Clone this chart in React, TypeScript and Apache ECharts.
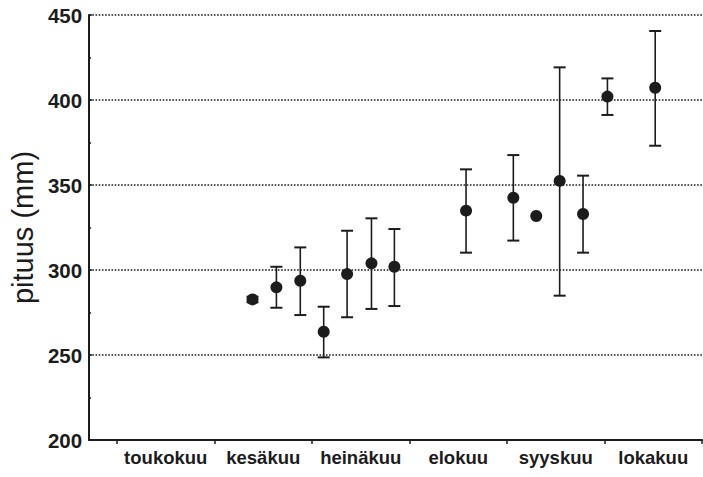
import React, { useEffect, useRef } from "react";
import * as echarts from "echarts";

// Sampling dates, in months after 1 May (0 = 1 May, 1 = 1 June, ...)
const sampleMonth = [1.39, 1.635, 1.88, 2.12, 2.36, 2.61, 2.845, 3.58, 4.065, 4.3, 4.54, 4.78, 5.03, 5.52];
// Mean length (mm) per sample
const meanLength = [282.7, 289.8, 293.7, 263.7, 297.6, 303.9, 301.9, 334.9, 342.5, 331.8, 352.4, 332.9, 402.0, 407.2];
// Error bar ends (mm); null where no bar is drawn
const upperLength = [284.3, 301.9, 313.3, 278.4, 323.1, 330.4, 324.1, 359.2, 367.6, null, 419.2, 355.5, 412.7, 440.6];
const lowerLength = [281.0, 277.8, 273.5, 248.6, 272.2, 277.1, 278.8, 310.2, 317.3, null, 284.9, 310.2, 391.2, 373.1];

const monthNames = ["toukokuu", "kesäkuu", "heinäkuu", "elokuu", "syyskuu", "lokakuu"];
const monthBoundaries = [0, 1, 2, 3, 4, 5, 6];
const monthCentres = [0.5, 1.5, 2.5, 3.5, 4.5, 5.5];

const INK = "#1c1c1c";
const FONT = "'Liberation Sans', Arial, Helvetica, sans-serif";

export default function App() {
  const ref = useRef<HTMLDivElement>(null);

  useEffect(() => {
    document.body.style.margin = "0";
    const chart = echarts.init(ref.current!, null, { renderer: "svg" });

    const points = sampleMonth.map((m, i) => [m, meanLength[i]]);
    const bars = sampleMonth
      .map((m, i) => [m, upperLength[i], lowerLength[i]])
      .filter((d) => d[1] !== null && d[2] !== null);

    chart.setOption({
      animation: false,
      backgroundColor: "#ffffff",
      grid: { left: 87, right: 1, top: 15, bottom: 37, containLabel: false },
      xAxis: {
        type: "value",
        min: -0.286,
        max: 6,
        axisLine: { show: true, onZero: false, lineStyle: { color: INK, width: 2 } },
        axisTick: {
          show: true,
          customValues: monthBoundaries,
          length: 4,
          lineStyle: { color: INK, width: 1.5 },
        },
        axisLabel: {
          customValues: monthCentres,
          formatter: (v: number) => monthNames[Math.floor(v)] ?? "",
          color: INK,
          fontFamily: FONT,
          fontWeight: "bold",
          fontSize: 18.5,
          margin: 8,
        },
        splitLine: { show: false },
      },
      yAxis: {
        type: "value",
        min: 200,
        max: 450,
        interval: 50,
        name: "pituus (mm)",
        nameLocation: "middle",
        nameGap: 42,
        nameTextStyle: { color: INK, fontFamily: FONT, fontSize: 29 },
        axisLine: { show: true, onZero: false, lineStyle: { color: INK, width: 2 } },
        axisTick: { show: true, inside: true, length: 3, lineStyle: { color: INK, width: 1.5 } },
        minorTick: { show: true, splitNumber: 2, length: 2, lineStyle: { color: INK, width: 1.5 } },
        axisLabel: {
          color: INK,
          fontFamily: FONT,
          fontWeight: "bold",
          fontSize: 20.5,
          margin: 7,
        },
        splitLine: {
          show: true,
          lineStyle: { color: INK, width: 1.6, type: [1.6, 1.6] },
        },
      },
      series: [
        {
          type: "custom",
          data: bars,
          renderItem: (params: any, api: any) => {
            const x = api.value(0);
            const top = api.coord([x, api.value(1)]);
            const bottom = api.coord([x, api.value(2)]);
            const cap = 6;
            const style = { stroke: INK, lineWidth: 1.6 };
            return {
              type: "group",
              children: [
                { type: "line", shape: { x1: top[0], y1: top[1], x2: bottom[0], y2: bottom[1] }, style },
                { type: "line", shape: { x1: top[0] - cap, y1: top[1], x2: top[0] + cap, y2: top[1] }, style: { stroke: INK, lineWidth: 2 } },
                { type: "line", shape: { x1: bottom[0] - cap, y1: bottom[1], x2: bottom[0] + cap, y2: bottom[1] }, style: { stroke: INK, lineWidth: 2 } },
              ],
            };
          },
          z: 2,
        },
        {
          type: "scatter",
          data: points,
          symbol: "circle",
          symbolSize: 12,
          itemStyle: { color: INK, opacity: 1 },
          z: 3,
        },
      ],
    });

    return () => chart.dispose();
  }, []);

  return <div ref={ref} style={{ width: 703, height: 477 }} />;
}
